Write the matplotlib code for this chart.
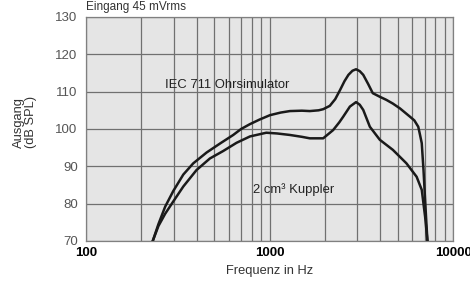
import matplotlib
matplotlib.use("Agg")
import matplotlib.pyplot as plt
import matplotlib.ticker as mticker

plt.rcParams['font.family'] = ['Liberation Sans', 'DejaVu Sans']

# IEC 711 Ohrsimulator
f_iec = [231, 248, 270, 299, 339, 384, 454, 537, 634, 700, 782, 880, 1005, 1150, 1291,
         1500, 1657, 1850, 1960, 2130, 2280, 2420, 2560, 2690, 2830, 2960, 3100,
         3240, 3450, 3650, 4000, 4330, 4700, 5140, 5500, 5820, 6150, 6460, 6600,
         6750, 6900, 7040, 7150, 7250]
db_iec = [70, 74.5, 79.2, 83.4, 87.8, 90.8, 93.7, 96.1, 98.4, 100.0, 101.3, 102.5, 103.7, 104.4, 104.8,
          104.9, 104.8, 105.0, 105.3, 106.2, 108.0, 110.4, 112.8, 114.5, 115.6, 116.0, 115.5,
          114.5, 112.0, 109.6, 108.6, 107.8, 106.8, 105.5, 104.3, 103.3, 102.3, 100.6, 98.5,
          96.2, 89.0, 81.0, 75.0, 70]

# 2 cm3 Kuppler
f_cpl = [231, 248, 270, 299, 339, 400, 473, 559, 661, 782, 960, 1100, 1291, 1500, 1657,
         1960, 2220, 2400, 2520, 2740, 2960, 3100, 3240, 3520, 3990, 4700, 5570,
         6330, 6750, 7040, 7250]
db_cpl = [70, 74.0, 77.3, 80.6, 84.6, 89.0, 92.1, 94.1, 96.3, 98.0, 99.0, 98.8, 98.4, 97.9, 97.5,
          97.5, 99.7, 101.8, 103.3, 106.0, 107.2, 106.5, 105.1, 100.6, 97.1, 94.4, 90.8,
          87.2, 83.7, 76.5, 70]

x_ticks = [100, 1000, 10000]
y_ticks = [70, 80, 90, 100, 110, 120, 130]

fig = plt.figure(figsize=(4.7, 2.97), dpi=100)
ax = fig.add_axes([0.183, 0.1886, 0.781, 0.7542])
ax.set_facecolor('#e5e5e5')

ax.plot(f_iec, db_iec, color='#1a1a1a', lw=1.8, zorder=3)
ax.plot(f_cpl, db_cpl, color='#1a1a1a', lw=1.8, zorder=3)

ax.set_xscale('log')
ax.set_xlim(100, 10000)
ax.set_ylim(70, 130)
ax.set_xticks(x_ticks)
ax.set_xticklabels([str(t) for t in x_ticks], fontsize=9.5, fontweight='bold')
ax.set_yticks(y_ticks)
ax.set_yticklabels([str(t) for t in y_ticks], fontsize=9.5, color='#555555')
ax.tick_params(axis='y', length=0, pad=6)
ax.tick_params(axis='x', length=0, pad=4)
ax.xaxis.set_minor_locator(mticker.LogLocator(base=10, subs=range(2, 10)))
ax.xaxis.set_minor_formatter(mticker.NullFormatter())
ax.tick_params(which='minor', length=0)
ax.grid(True, which='both', axis='x', color='#707070', lw=0.9)
ax.grid(True, which='major', axis='y', color='#707070', lw=0.9)
for s in ax.spines.values():
    s.set_color('#808080')
    s.set_linewidth(0.9)

ax.set_xlabel('Frequenz in Hz', fontsize=9.3, color='#333333', labelpad=5)
ax.set_ylabel('Ausgang\n(dB SPL)', fontsize=9.3, color='#333333',
              linespacing=1.0)
ax.yaxis.set_label_coords(-0.134, 0.53)

ax.text(270, 111.8, 'IEC 711 Ohrsimulator', fontsize=9.4, color='#222222',
        va='center', ha='left', zorder=4)
ax.text(815, 83.7, '2 cm³ Kuppler', fontsize=9.4, color='#222222',
        va='center', ha='left', zorder=4)

fig.text(0.183, 0.998, 'Eingang 45 mVrms', fontsize=8.5, color='#333333', va='top')

fig.savefig('out.png', dpi=100)
